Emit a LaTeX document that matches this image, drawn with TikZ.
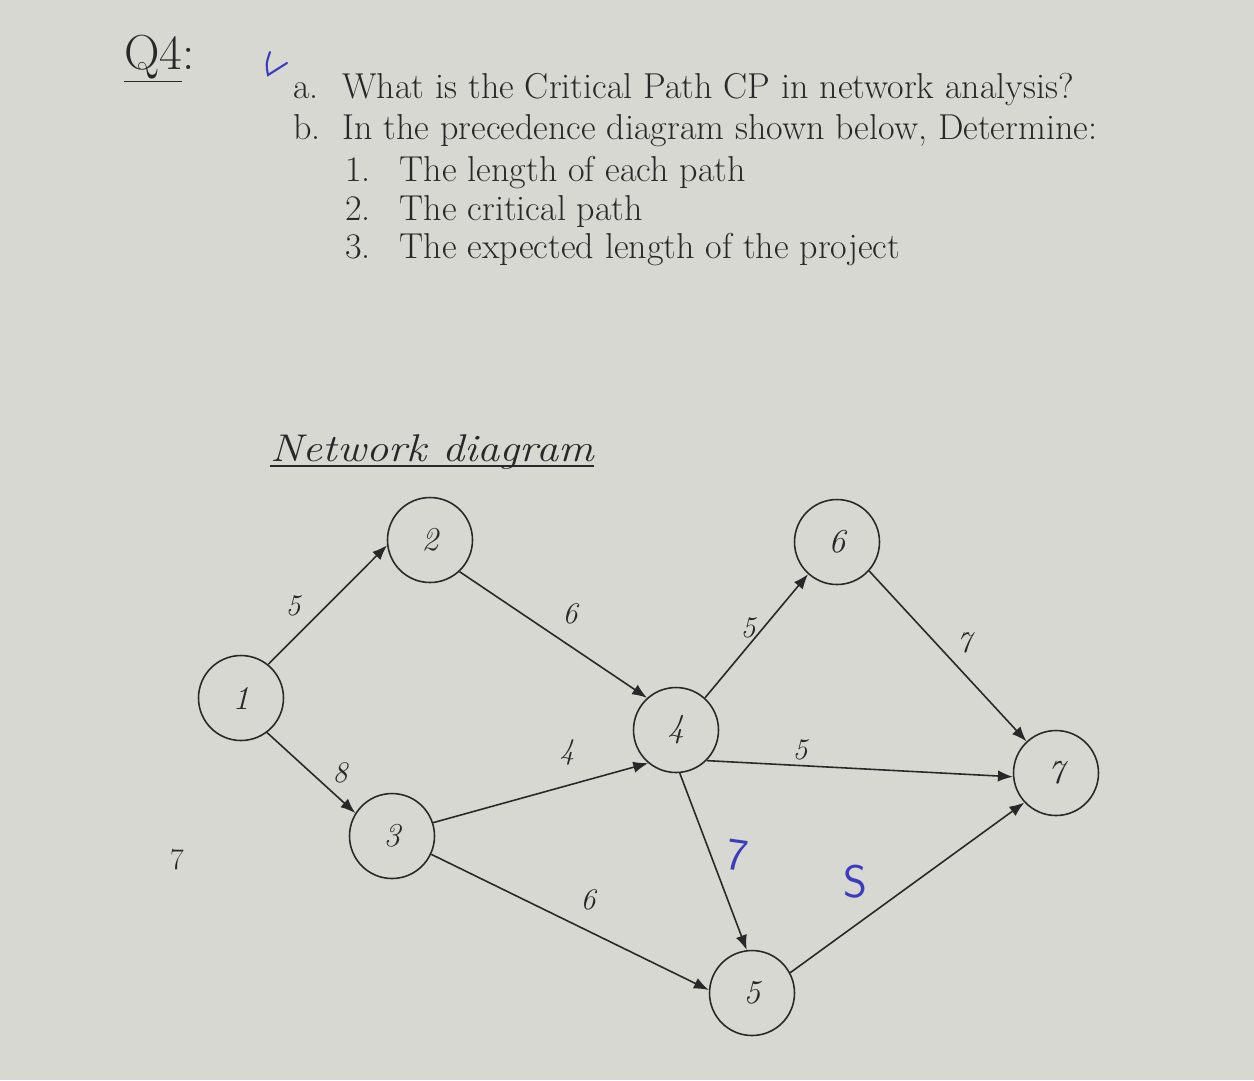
\documentclass[tikz,border=0pt]{standalone}
\usepackage{fontspec}
\usetikzlibrary{arrows.meta}

\definecolor{paper}{RGB}{216,216,211}
\definecolor{ink}{RGB}{40,40,40}
\definecolor{pen}{RGB}{60,60,190}

\begin{document}
\begin{tikzpicture}[x=0.02cm,y=-0.02cm,
    event/.style={circle,draw=ink,line width=0.9pt,minimum size=1.7cm,inner sep=0pt,
      text=ink,font=\fontsize{19}{19}\selectfont\itshape},
    act/.style={draw=ink,line width=0.9pt,-{Latex[length=8.5pt,width=6.5pt]}},
    dur/.style={text=ink,font=\fontsize{17}{17}\selectfont\itshape},
    hand/.style={text=pen,font=\fontsize{26}{26}\selectfont\sffamily},
    qline/.style={anchor=base west,inner sep=0pt,text=ink,
      font=\fontsize{20.5}{20.5}\selectfont}]
        % Page
        \fill[paper] (0,0) rectangle (1254,1080);
        
        % Question heading and the teacher's tick
        \node[anchor=base west,inner sep=0pt,text=ink,font=\fontsize{28}{28}\selectfont] (q4) at (124,69) {\underline{Q4}:};
        \draw[pen,line width=1.2pt,line cap=round] (270,52) .. controls (266,64) .. (268,75) -- (287,63);
        
        % Question text
        \node[qline] (qa) at (293,98) {\makebox[28pt][l]{a.}What is the Critical Path CP in network analysis?};
        \node[qline] (qb) at (293,139) {\makebox[28pt][l]{b.}In the precedence diagram shown below, Determine:};
        \node[qline] (q1) at (345,181) {\makebox[31pt][l]{1.}The length of each path};
        \node[qline] (q2) at (345,220) {\makebox[31pt][l]{2.}The critical path};
        \node[qline] (q3) at (345,258) {\makebox[31pt][l]{3.}The expected length of the project};
        
        % Title of the diagram
        \node[anchor=base west,inner sep=0pt,text=ink,font=\fontsize{22}{22}\selectfont\itshape] (title) at (270,461) {\scalebox{1.15}[1]{Network diagram}};
        \draw[ink,line width=0.9pt] ([yshift=-3pt]title.base west) -- ([yshift=-3pt]title.base east);
        
        % Events
        \node[event] (n1) at (241,698) {1};
        \node[event] (n2) at (430,540) {2};
        \node[event] (n3) at (392,836) {3};
        \node[event] (n4) at (676,730) {4};
        \node[event] (n5) at (752,993) {5};
        \node[event] (n6) at (837,542) {6};
        \node[event] (n7) at (1056,773) {7};
        
        % Activities
        \draw[act] (n1.51) -- (n2.187);
        \draw[act] (n2.-47) -- (n4.132);
        \draw[act] (n1.-53) -- (n3.148);
        \draw[act] (n3.18) -- (n4.-130);
        \draw[act] (n3.-25) -- (n5.176);
        \draw[act] (n4.-85) -- (n5.97);
        \draw[act] (n4.48) -- (n6.-132);
        \draw[act] (n6.-42) -- (n7.133);
        \draw[act] (n4.-45) -- (n7.185);
        \draw[act] (n5.28) -- (n7.223);
        
        % Durations
        \node[dur] (d12) at (293,606) {5};
        \node[dur] (d24) at (570,614) {6};
        \node[dur] (d13) at (340,773) {8};
        \node[dur] (d34) at (567,752) {4};
        \node[dur] (d46) at (748,628) {5};
        \node[dur] (d67) at (964,643) {7};
        \node[dur] (d47) at (800,750) {5};
        \node[dur] (d35) at (588,900) {6};
        
        % Handwritten durations
        \node[hand,rotate=-8] (h45) at (737,855) {7};
        \node[hand] (h57) at (855,882) {S};
        
        % Stray number in the margin
        \node[text=ink,font=\fontsize{17}{17}\selectfont] (stray) at (177,860) {7};
        
    \end{tikzpicture}
\end{document}
